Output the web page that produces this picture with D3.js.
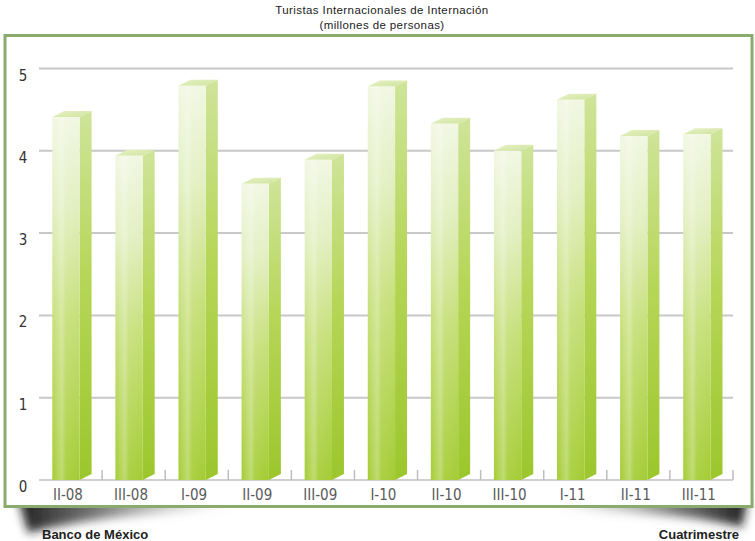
<!DOCTYPE html>
<html>
<head>
<meta charset="utf-8">
<script src="https://cdn.jsdelivr.net/npm/d3@7"></script>
<style>
  html, body { margin: 0; padding: 0; background: #fff; }
  svg { display: block; }
</style>
</head>
<body>
<svg id="chart" width="755" height="541"></svg>
<script>
// Quarterly international arrivals (millions of people)
const categories = ["II-08", "III-08", "I-09", "II-09", "III-09", "I-10", "II-10", "III-10", "I-11", "II-11", "III-11"];
const values = [4.41, 3.94, 4.79, 3.60, 3.89, 4.78, 4.33, 4.00, 4.62, 4.18, 4.20];
const yTicks = [0, 1, 2, 3, 4, 5];
const titleLines = ["Turistas Internacionales de Internación", "(millones de personas)"];
const sourceText = "Banco de México";
const axisText = "Cuatrimestre";

const svg = d3.select("#chart");
const plot = { left: 39, right: 733, top: 68.5, bottom: 480 };

const x = d3.scaleBand().domain(categories).range([plot.left, plot.right]).padding(0);
const y = d3.scaleLinear().domain([0, 5]).range([plot.bottom, plot.top]);

const defs = svg.append("defs");

// Front face: pale at the top, lime toward the base
const gFront = defs.append("linearGradient").attr("id", "front").attr("x1", 0).attr("y1", 0).attr("x2", 0).attr("y2", 1);
gFront.append("stop").attr("offset", "0%").attr("stop-color", "#f1f7e2");
gFront.append("stop").attr("offset", "25%").attr("stop-color", "#e2efc0");
gFront.append("stop").attr("offset", "55%").attr("stop-color", "#c6e07a");
gFront.append("stop").attr("offset", "100%").attr("stop-color", "#a4cc34");

// Soft vertical sheen across the front face
const gSheen = defs.append("linearGradient").attr("id", "sheen").attr("x1", 0).attr("y1", 0).attr("x2", 1).attr("y2", 0);
gSheen.append("stop").attr("offset", "0%").attr("stop-color", "#fff").attr("stop-opacity", 0.0);
gSheen.append("stop").attr("offset", "35%").attr("stop-color", "#fff").attr("stop-opacity", 0.3);
gSheen.append("stop").attr("offset", "50%").attr("stop-color", "#fff").attr("stop-opacity", 0.08);
gSheen.append("stop").attr("offset", "100%").attr("stop-color", "#fff").attr("stop-opacity", 0.0);

const gSide = defs.append("linearGradient").attr("id", "side").attr("x1", 0).attr("y1", 0).attr("x2", 0).attr("y2", 1);
gSide.append("stop").attr("offset", "0%").attr("stop-color", "#cfe49a");
gSide.append("stop").attr("offset", "45%").attr("stop-color", "#b6d658");
gSide.append("stop").attr("offset", "100%").attr("stop-color", "#9cc62c");

const gTop = defs.append("linearGradient").attr("id", "top").attr("x1", 0).attr("y1", 0).attr("x2", 1).attr("y2", 1);
gTop.append("stop").attr("offset", "0%").attr("stop-color", "#e6f1c6");
gTop.append("stop").attr("offset", "100%").attr("stop-color", "#cfe49c");

// Frame shadow styling
const blur = defs.append("filter").attr("id", "blur").attr("x", "-30%").attr("y", "-80%").attr("width", "160%").attr("height", "260%");
blur.append("feGaussianBlur").attr("stdDeviation", 5);

const gShL = defs.append("linearGradient").attr("id", "shL").attr("x1", 0).attr("y1", 0).attr("x2", 1).attr("y2", 0);
gShL.append("stop").attr("offset", "0%").attr("stop-color", "#111").attr("stop-opacity", 0.95);
gShL.append("stop").attr("offset", "35%").attr("stop-color", "#444").attr("stop-opacity", 0.75);
gShL.append("stop").attr("offset", "100%").attr("stop-color", "#999").attr("stop-opacity", 0);
const gShR = defs.append("linearGradient").attr("id", "shR").attr("x1", 1).attr("y1", 0).attr("x2", 0).attr("y2", 0);
gShR.append("stop").attr("offset", "0%").attr("stop-color", "#111").attr("stop-opacity", 0.95);
gShR.append("stop").attr("offset", "35%").attr("stop-color", "#444").attr("stop-opacity", 0.75);
gShR.append("stop").attr("offset", "100%").attr("stop-color", "#999").attr("stop-opacity", 0);

// Curled-paper shadows beneath the frame corners
svg.append("path")
  .attr("d", "M18,498 L230,498 L230,509 C150,513 80,519 28,533 Z")
  .attr("fill", "url(#shL)").attr("filter", "url(#blur)");
svg.append("path")
  .attr("d", "M748,498 L555,498 L555,509 C625,512 695,515 742,527 Z")
  .attr("fill", "url(#shR)").attr("filter", "url(#blur)");

// Frame
svg.append("rect")
  .attr("x", 5).attr("y", 35.5).attr("width", 747).attr("height", 471)
  .attr("fill", "#fff").attr("stroke", "#8aab6c").attr("stroke-width", 3);

// Title
svg.append("g").selectAll("text").data(titleLines).join("text")
  .attr("x", 382).attr("y", (d, i) => 14 + i * 14.5)
  .attr("text-anchor", "middle")
  .attr("font-family", "'Liberation Sans', Arial, sans-serif")
  .attr("font-size", 11.5).attr("letter-spacing", 0.4)
  .attr("fill", "#222")
  .text(d => d);

// Gridlines
svg.append("g").selectAll("line").data(yTicks.slice(1)).join("line")
  .attr("x1", plot.left).attr("x2", plot.right)
  .attr("y1", d => y(d)).attr("y2", d => y(d))
  .attr("stroke", "#c8c8c8").attr("stroke-width", 2);

// Baseline and category ticks
svg.append("line")
  .attr("x1", plot.left).attr("x2", plot.right)
  .attr("y1", y(0)).attr("y2", y(0))
  .attr("stroke", "#d0d0d0").attr("stroke-width", 2);
const tickXs = categories.map(c => x(c) + x.bandwidth());
svg.append("g").selectAll("line").data(tickXs).join("line")
  .attr("x1", d => d).attr("x2", d => d)
  .attr("y1", y(0) - 10).attr("y2", y(0))
  .attr("stroke", "#bdbdbd").attr("stroke-width", 1.5);

// Y tick labels
svg.append("g").selectAll("text").data(yTicks).join("text")
  .attr("x", 23).attr("y", d => y(d) + 12)
  .attr("text-anchor", "middle")
  .attr("font-family", "'DejaVu Sans Condensed', sans-serif")
  .attr("font-size", 15).attr("fill", "#333")
  .text(d => d);

// 3D bars
const faceW = 27.3, depthX = 12, depthY = 6, inset = 13.3;
const bars = svg.append("g").selectAll("g").data(categories.map((c, i) => ({ c, v: values[i] }))).join("g");

bars.append("path")
  .attr("d", d => {
    const x0 = x(d.c) + inset + faceW, yt = y(d.v), yb = y(0);
    return `M${x0},${yt} L${x0 + depthX},${yt - depthY} L${x0 + depthX},${yb - depthY} L${x0},${yb} Z`;
  })
  .attr("fill", "url(#side)");

bars.append("path")
  .attr("d", d => {
    const x0 = x(d.c) + inset, yt = y(d.v);
    return `M${x0},${yt} L${x0 + depthX},${yt - depthY} L${x0 + faceW + depthX},${yt - depthY} L${x0 + faceW},${yt} Z`;
  })
  .attr("fill", "url(#top)");

bars.append("rect")
  .attr("x", d => x(d.c) + inset).attr("y", d => y(d.v))
  .attr("width", faceW).attr("height", d => y(0) - y(d.v))
  .attr("fill", "url(#front)");

bars.append("rect")
  .attr("x", d => x(d.c) + inset).attr("y", d => y(d.v))
  .attr("width", faceW).attr("height", d => y(0) - y(d.v))
  .attr("fill", "url(#sheen)");

// Category labels
svg.append("g").selectAll("text").data(categories).join("text")
  .attr("x", d => x(d) + inset + faceW / 2 + 2).attr("y", 500)
  .attr("text-anchor", "middle")
  .attr("font-family", "'DejaVu Sans Condensed', sans-serif")
  .attr("font-size", 15).attr("font-weight", 300).attr("fill", "#5a5a5a")
  .text(d => d);

// Footer captions
svg.append("text")
  .attr("x", 42).attr("y", 539)
  .attr("font-family", "'Liberation Sans', Arial, sans-serif")
  .attr("font-size", 13).attr("font-weight", "bold").attr("fill", "#222")
  .text(sourceText);
svg.append("text")
  .attr("x", 739).attr("y", 539)
  .attr("text-anchor", "end")
  .attr("font-family", "'Liberation Sans', Arial, sans-serif")
  .attr("font-size", 13).attr("font-weight", "bold").attr("fill", "#222")
  .text(axisText);
</script>
</body>
</html>
